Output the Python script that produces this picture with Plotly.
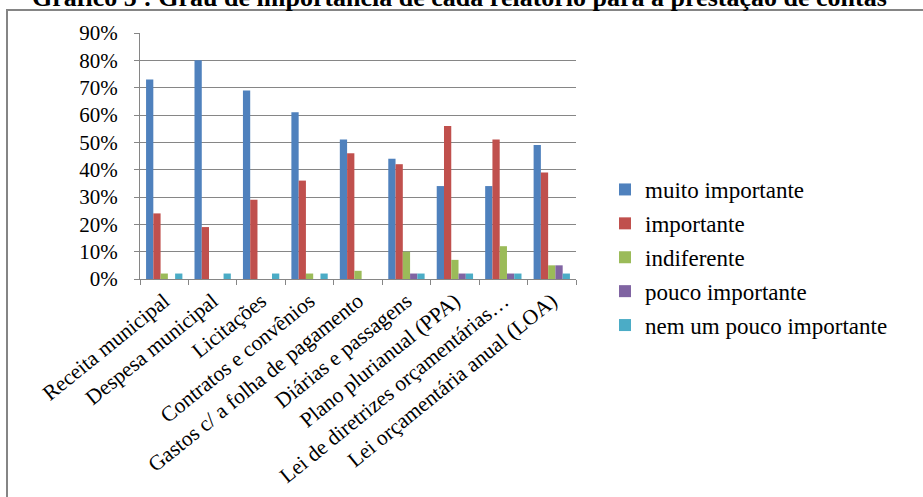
import plotly.graph_objects as go

categories = ["Receita municipal", "Despesa municipal", "Licitações", "Contratos e convênios",
              "Gastos c/ a folha de pagamento", "Diárias e passagens", "Plano plurianual (PPA)",
              "Lei de diretrizes orçamentárias…", "Lei orçamentária anual (LOA)"]
series_names = ["muito importante", "importante", "indiferente", "pouco importante",
                "nem um pouco importante"]
muito_importante = [73, 80, 69, 61, 51, 44, 34, 34, 49]
importante = [24, 19, 29, 36, 46, 42, 56, 51, 39]
indiferente = [2, 0, 0, 2, 3, 10, 7, 12, 5]
pouco_importante = [0, 0, 0, 0, 0, 2, 2, 2, 5]
nem_um_pouco = [2, 2, 2, 2, 0, 2, 2, 2, 2]
colors = ["#4F81BD", "#C0504D", "#9BBB59", "#8064A2", "#4BACC6"]
title = "Gráfico 5 : Grau de importância de cada relatório para a prestação de contas"

values = [muito_importante, importante, indiferente, pouco_importante, nem_um_pouco]

W, H = 923, 497
L, R, T, B = 140, 347, 33, 218
pw, ph = W - L - R, H - T - B

def px_x(x):
    return (x - L) / pw

def px_y(y):
    return (H - B - y) / ph

fig = go.Figure()
for i, (name, vals) in enumerate(zip(series_names, values)):
    fig.add_trace(go.Bar(
        x=categories, y=[v / 100 for v in vals], name=name,
        marker=dict(color=colors[i], line=dict(width=0)),
        legendgroup=str(i),
    ))

serif = "Liberation Serif"
fig.update_layout(
    width=W, height=H,
    margin=dict(l=L, r=R, t=T, b=B, autoexpand=False),
    paper_bgcolor="white", plot_bgcolor="white",
    barmode="group", bargap=0.25, bargroupgap=0,
    font=dict(family=serif, color="black", size=18),
    showlegend=True,
    legend=dict(x=px_x(605), y=px_y(168), xanchor="left", yanchor="top",
                font=dict(family=serif, size=23), traceorder="grouped",
                tracegroupgap=1, itemwidth=30, bgcolor="rgba(0,0,0,0)"),
    xaxis=dict(type="category", tickangle=-39, tickson="boundaries", ticks="outside",
               ticklen=5, tickcolor="#868686", showline=True, linecolor="#868686",
               linewidth=1, showgrid=False, tickfont=dict(family=serif, size=21.5)),
    yaxis=dict(range=[0, 0.9], dtick=0.1, tickformat=".0%", ticks="outside", ticklen=5,
               tickcolor="#868686", showline=True, linecolor="#868686", linewidth=1,
               showgrid=True, gridcolor="#868686", gridwidth=1, zeroline=False,
               ticklabelstandoff=12, tickfont=dict(family=serif, size=21)),
)

fig.add_shape(type="rect", xref="paper", yref="paper",
              x0=px_x(7), x1=px_x(940), y0=px_y(520), y1=px_y(10),
              line=dict(color="#858585", width=2), fillcolor="rgba(0,0,0,0)", layer="below")

fig.add_annotation(text="<b>" + title + "</b>", xref="paper", yref="paper",
                   x=px_x(459), y=px_y(14), xanchor="center", yanchor="bottom",
                   showarrow=False, font=dict(family=serif, size=26, color="black"))

fig.write_html("out.html", config={"displayModeBar": False},
               post_script="document.body.style.margin='0px';")
